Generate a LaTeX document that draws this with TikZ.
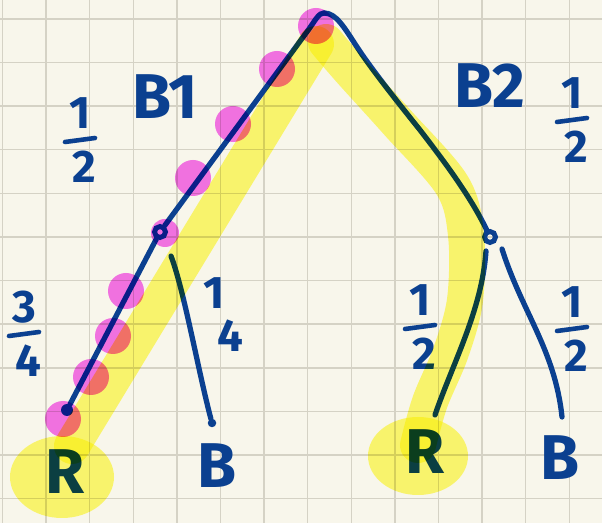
\documentclass[tikz,border=0pt]{standalone}
\usepackage{fontspec}
\setmainfont{Fira Sans}
\usetikzlibrary{calc}
\definecolor{tbPaper}{HTML}{F8F6EB}
\definecolor{tbGrid}{HTML}{D5D2C5}
\definecolor{tbInk}{HTML}{0B4090}
\definecolor{tbHigh}{HTML}{FFFC76}
\definecolor{tbPink}{HTML}{F776F2}
\tikzset{
  % pen stroke
  ink/.style={draw=tbInk,line width=3pt,line cap=round,line join=round},
  % grid of the paper
  gridline/.style={draw=tbGrid,line width=0.8pt},
  % yellow marker
  hl/.style={draw=tbHigh,line width=0.72cm,line cap=round,line join=round,blend mode=multiply},
  hlfill/.style={fill=tbHigh,blend mode=multiply},
  % pink dots along the path
  pdot/.style={fill=tbPink,blend mode=multiply},
  % branch point and end dot
  knot/.style={circle,draw=tbInk,line width=2.8pt,inner sep=0pt,minimum size=0.22cm},
  tip/.style={circle,fill=tbInk,inner sep=0pt,minimum size=0.24cm},
  % labels
  lbl/.style={text=tbInk,font=\fontsize{36}{40}\selectfont\bfseries,inner sep=0pt},
  num/.style={text=tbInk,font=\fontsize{26}{30}\selectfont\bfseries,inner sep=0pt},
}
\begin{document}
\begin{tikzpicture}[x=0.02cm,y=-0.02cm]
  \useasboundingbox (0,0) rectangle (602,523);
  \fill[tbPaper] (0,0) rectangle (602,523);
  \foreach \i in {0,...,13}
    \draw[gridline] ({2.5+43.6*\i},0) -- ({2.5+43.6*\i},523);
  \foreach \j in {0,...,11}
    \draw[gridline] (0,{19+43.6*\j}) -- (602,{19+43.6*\j});

  % tree
  \coordinate (apex) at (324,13);
  \node[knot] (b1) at (160,232) {};
  \node[knot] (b2) at (490,237) {};
  \node[tip] (r1) at (67,410) {};
  \node[tip,minimum size=0.17cm] (e1) at (212,423) {};
  \coordinate (s1) at (171,256);
  \coordinate (s2) at (486,251);
  \coordinate (s3) at (502,249);
  \coordinate (r2) at (435,415);
  \coordinate (e2) at (562,417);

  \draw[ink] (b1) -- (309,29) .. controls (316,19) and (319,13) .. (apex);
  \draw[ink] (apex) .. controls (336,13) and (344,27) .. (357,47)
    .. controls (372,70) and (400,105) .. (420,130)
    .. controls (440,156) and (470,195) .. (b2);
  \draw[ink] (b1) -- (r1);
  \draw[ink] (s1) .. controls (184,290) and (198,370) .. (e1);
  \draw[ink] (s2) .. controls (482,310) and (452,365) .. (r2);
  \draw[ink] (s3) .. controls (522,312) and (555,350) .. (e2);

  % labels
  \node[lbl] (bo) at (165,97) {B1};
  \node[lbl] (bt) at (490,86) {B2};
  \node[lbl] (rl) at (65,472) {R};
  \node[lbl] (bl) at (217,466) {B};
  \node[lbl] (rr) at (425,452) {R};
  \node[lbl] (br) at (560,458) {B};
  \foreach \nm/\x/\y/\n/\d in {pa/80/140/1/2, pb/572/120/1/2, pc/24/334/3/4,
      pd/420/327/1/2, pe/572/329/1/2}{
    \node[num] (\nm n) at (\x,\y-27) {\n};
    \node[num] (\nm d) at (\x+4,\y+27) {\d};
    \draw[ink,line width=2.6pt] (\x-15,\y+2) -- (\x+15,\y-2);
  }
  \node[num] (qn) at (214,293) {1};
  \node[num] (qd) at (230,336) {4};

  % marker on top
  \draw[hl] (72,446) -- (316,44);
  \draw[hl] plot[smooth,tension=0.55] coordinates {(326,42) (350,70) (397,122)
    (452,185) (466,235) (465,300) (451,352) (430,402) (418,445)};
  \fill[hlfill] (62,477) ellipse [x radius=52,y radius=41];
  \fill[hlfill] (418,456) ellipse [x radius=50,y radius=39];
  \foreach \px/\py in {316/26, 277/69, 233/124, 193/178, 126/291, 113/336,
      91/377, 63/419}
    \fill[pdot] (\px,\py) circle [radius=18];
  \fill[pdot] (165,233) circle [radius=14];
\end{tikzpicture}
\end{document}
